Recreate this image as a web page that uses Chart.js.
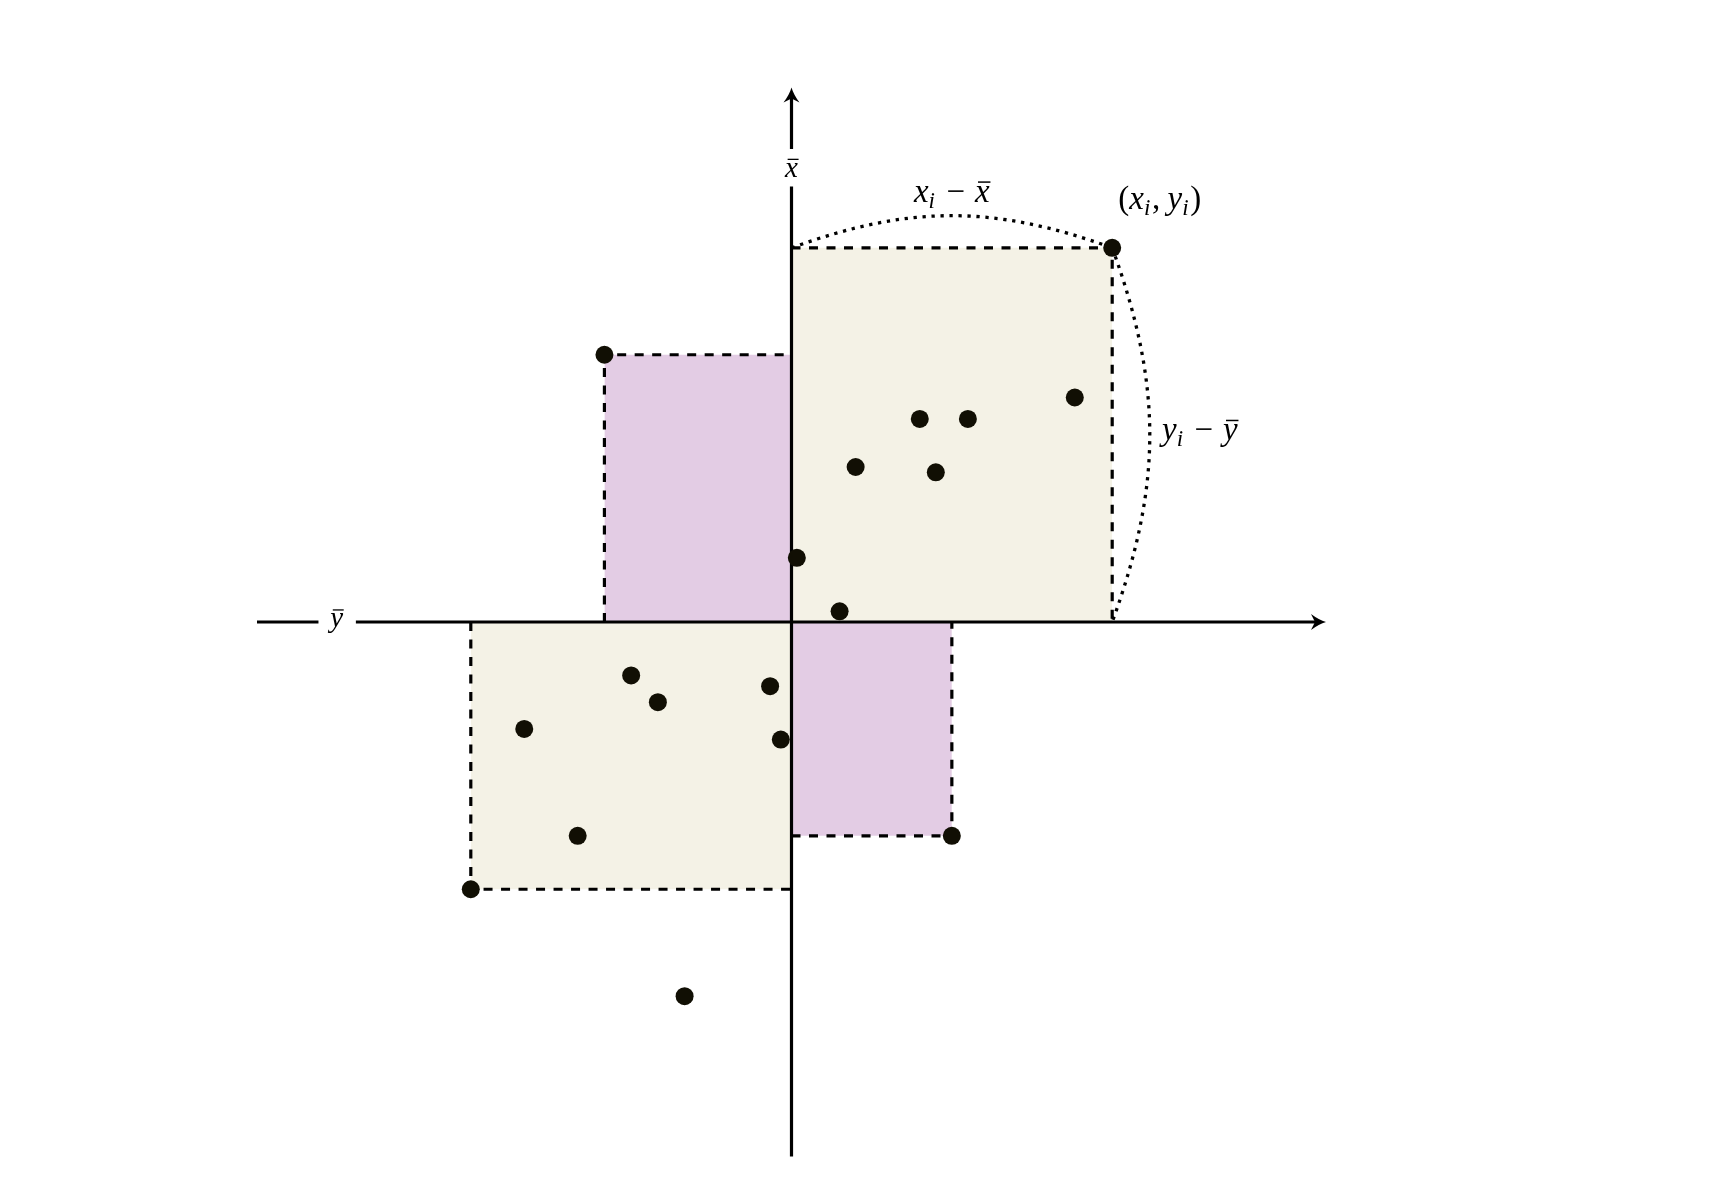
<!DOCTYPE html>
<html>
<head>
<meta charset="utf-8">
<title>Covariância</title>
<script src="https://cdn.jsdelivr.net/npm/chart.js@4.4.1/dist/chart.umd.min.js"></script>
<style>
  html, body { margin: 0; padding: 0; background: #fff; }
  canvas { display: block; }
  .probe { position: absolute; left: -9999px; font-family: "Liberation Serif"; font-style: italic; }
</style>
</head>
<body>
<span class="probe">xy</span>
<canvas id="chart" width="1714" height="1200"></canvas>
<script>
// Pontos em torno das médias (x̄, ȳ) = origem
const POINTS_X = [6, -3.5, 5.3, 2.4, 3.3, 1.2, 2.7, 0.1, 0.9, -3, -2.5, -0.4, -5, -0.2, -4, 3, -6, -2];
const POINTS_Y = [7, 5, 4.2, 3.8, 3.8, 2.9, 2.8, 1.2, 0.2, -1, -1.5, -1.2, -2, -2.2, -4, -4, -5, -7];

// Retângulos: canto oposto à origem + cor
const RECT_X = [6, -3.5, -6, 3];
const RECT_Y = [7, 5, -5, -4];
const RECT_FILL = ["#f4f2e6", "#e3cce4", "#f4f2e6", "#e3cce4"];

// Eixos
const AXIS_RANGE = [-10, 10];
const AXIS_LABEL_POS = 8.5;
const AXIS_LABEL_GAP = 0.35;

// Arcos pontilhados (de, para)
const ARC_FROM = [[0, 7], [6, 7]];
const ARC_TO = [[6, 7], [6, 0]];
const ARC_BEND = 20;

// Textos: conteúdo, centro x, linha de base y, tamanho
const LABEL_TEXT = ["x_i − x\u0304", "(x_i, y_i)", "y_i − y\u0304", "x\u0304", "y\u0304"];
const LABEL_X = [3.0, 6.89, 7.64, 0, -8.51];
const LABEL_Y = [7.86, 7.73, 3.40, 8.33, -0.10];
const LABEL_SIZE = [33, 33, 33, 29, 29];

const INK = "#000";
const DOT = "#110f04";
const SERIF = '"Liberation Serif", "DejaVu Serif", serif';

function rectPath(rx, ry) {
  // ordem crescente em x para o preenchimento até y = 0
  return rx > 0
    ? [{ x: 0, y: ry }, { x: rx, y: ry }, { x: rx, y: 0 }]
    : [{ x: rx, y: 0 }, { x: rx, y: ry }, { x: 0, y: ry }];
}

function arrowHead(ctx, tx, ty, ang) {
  ctx.save();
  ctx.translate(tx, ty);
  ctx.rotate(ang);
  ctx.beginPath();
  ctx.moveTo(0, 0);
  ctx.quadraticCurveTo(-7, 2, -15, 8);
  ctx.lineTo(-11, 0);
  ctx.lineTo(-15, -8);
  ctx.quadraticCurveTo(-7, -2, 0, 0);
  ctx.closePath();
  ctx.fill();
  ctx.restore();
}

function drawAxes(chart) {
  const { ctx, scales: { x, y } } = chart;
  const x0 = x.getPixelForValue(0), y0 = y.getPixelForValue(0);
  const [lo, hi] = AXIS_RANGE;
  ctx.save();
  ctx.strokeStyle = INK;
  ctx.fillStyle = INK;
  ctx.lineWidth = 3.2;
  ctx.beginPath();
  ctx.moveTo(x.getPixelForValue(lo), y0);
  ctx.lineTo(x.getPixelForValue(-AXIS_LABEL_POS - AXIS_LABEL_GAP), y0);
  ctx.moveTo(x.getPixelForValue(-AXIS_LABEL_POS + AXIS_LABEL_GAP), y0);
  ctx.lineTo(x.getPixelForValue(hi) - 10, y0);
  ctx.moveTo(x0, y.getPixelForValue(lo));
  ctx.lineTo(x0, y.getPixelForValue(AXIS_LABEL_POS - AXIS_LABEL_GAP));
  ctx.moveTo(x0, y.getPixelForValue(AXIS_LABEL_POS + AXIS_LABEL_GAP));
  ctx.lineTo(x0, y.getPixelForValue(hi) + 10);
  ctx.stroke();
  arrowHead(ctx, x.getPixelForValue(hi), y0, 0);
  arrowHead(ctx, x0, y.getPixelForValue(hi), -Math.PI / 2);
  ctx.restore();
}

// curva tipo "bend left" do TikZ
function drawArcs(chart) {
  const { ctx, scales: { x, y } } = chart;
  const t = ARC_BEND * Math.PI / 180;
  ctx.save();
  ctx.strokeStyle = INK;
  ctx.lineWidth = 3.3;
  ctx.setLineDash([3.3, 5.7]);
  ARC_FROM.forEach((p, i) => {
    const q = ARC_TO[i];
    const dx = q[0] - p[0], dy = q[1] - p[1];
    const len = Math.hypot(dx, dy);
    const ux = dx / len, uy = dy / len, nx = -uy, ny = ux;
    const L = 0.3915 * len;
    const c1 = [p[0] + L * (Math.cos(t) * ux + Math.sin(t) * nx), p[1] + L * (Math.cos(t) * uy + Math.sin(t) * ny)];
    const c2 = [q[0] - L * (Math.cos(t) * ux - Math.sin(t) * nx), q[1] - L * (Math.cos(t) * uy - Math.sin(t) * ny)];
    ctx.beginPath();
    ctx.moveTo(x.getPixelForValue(p[0]), y.getPixelForValue(p[1]));
    ctx.bezierCurveTo(
      x.getPixelForValue(c1[0]), y.getPixelForValue(c1[1]),
      x.getPixelForValue(c2[0]), y.getPixelForValue(c2[1]),
      x.getPixelForValue(q[0]), y.getPixelForValue(q[1]));
    ctx.stroke();
  });
  ctx.restore();
}

// texto matemático simples: itálico, subscrito, barra
function mathTokens(str) {
  const out = [];
  for (let i = 0; i < str.length; i++) {
    const c = str[i];
    if (c === " ") continue;
    if (c === "_") { out.push({ t: str[++i], sub: true }); continue; }
    if (c === "\u0304") { out[out.length - 1].bar = true; continue; }
    out.push({ t: c, roman: !/[a-z]/i.test(c) });
  }
  return out;
}

function drawMath(ctx, str, cx, by, size) {
  const toks = mathTokens(str);
  let w = 0;
  toks.forEach((tk) => {
    const s = Math.round(tk.sub ? size * 0.7 : size);
    tk.font = (tk.roman ? "" : "italic ") + s + "px " + SERIF;
    ctx.font = tk.font;
    const pre = tk.t === "−" ? size * 0.3 : 0;
    const post = tk.t === "−" ? size * 0.3 : tk.t === "," ? size * 0.22 : tk.sub ? size * 0.05 : 0;
    tk.x = w + pre;
    tk.w = ctx.measureText(tk.t).width;
    tk.dy = tk.sub ? size * 0.18 : 0;
    w = tk.x + tk.w + post;
  });
  const x0 = cx - w / 2;
  ctx.fillStyle = INK;
  ctx.strokeStyle = INK;
  ctx.textBaseline = "alphabetic";
  ctx.textAlign = "left";
  toks.forEach((tk) => {
    ctx.font = tk.font;
    ctx.fillText(tk.t, x0 + tk.x, by + tk.dy);
    if (tk.bar) {
      ctx.lineWidth = size * 0.045;
      ctx.beginPath();
      ctx.moveTo(x0 + tk.x + tk.w * 0.2, by - size * 0.6);
      ctx.lineTo(x0 + tk.x + tk.w * 1.05, by - size * 0.6);
      ctx.stroke();
    }
  });
}

const overlay = {
  id: "overlay",
  beforeDatasetDraw(chart, args) {
    if (args.index !== 0) return;
    drawAxes(chart);
    drawArcs(chart);
  },
  afterDatasetsDraw(chart) {
    const { ctx, scales: { x, y } } = chart;
    ctx.save();
    LABEL_TEXT.forEach((s, i) => {
      drawMath(ctx, s, x.getPixelForValue(LABEL_X[i]), y.getPixelForValue(LABEL_Y[i]), LABEL_SIZE[i]);
    });
    ctx.restore();
  },
};

const datasets = [{
  type: "scatter",
  data: POINTS_X.map((v, i) => ({ x: v, y: POINTS_Y[i] })),
  backgroundColor: DOT,
  borderWidth: 0,
  pointRadius: 9,
  order: 0,
}];
RECT_X.forEach((rx, i) => {
  datasets.push({
    type: "line",
    data: rectPath(rx, RECT_Y[i]),
    borderColor: INK,
    borderWidth: 3.2,
    borderDash: [9, 8.5],
    backgroundColor: RECT_FILL[i],
    fill: "origin",
    pointRadius: 0,
    tension: 0,
    order: 2,
  });
});

function build() {
  new Chart(document.getElementById("chart"), {
    data: { datasets },
    options: {
      responsive: false,
      animation: false,
      events: [],
      layout: { padding: { left: 257, right: 388, top: 87.5, bottom: 43.5 } },
      plugins: { legend: { display: false }, tooltip: { enabled: false } },
      scales: {
        x: { type: "linear", min: AXIS_RANGE[0], max: AXIS_RANGE[1], display: false },
        y: { type: "linear", min: AXIS_RANGE[0], max: AXIS_RANGE[1], display: false },
      },
    },
    plugins: [overlay],
  });
}

document.fonts.load('italic 33px "Liberation Serif"').then(build, build);
</script>
</body>
</html>
